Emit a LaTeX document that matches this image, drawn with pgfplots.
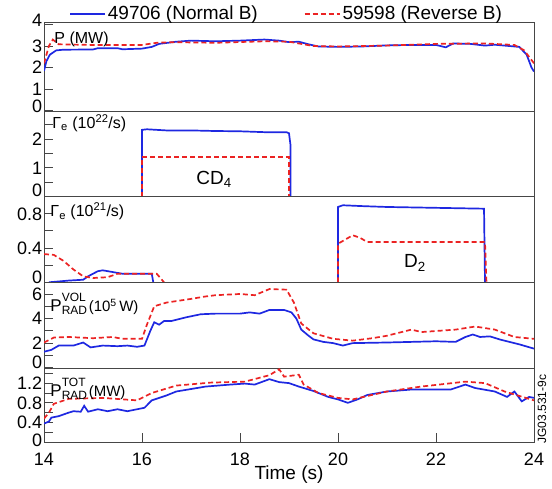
\documentclass[border=0pt]{standalone}
\usepackage{pgfplots}
\pgfplotsset{compat=1.18}
\usepackage{fontspec}
\setmainfont{Liberation Sans}
\definecolor{cblue}{RGB}{30,40,225}
\definecolor{cred}{RGB}{235,35,35}
\definecolor{frame}{RGB}{70,70,70}
\newcommand{\fs}[1]{\fontsize{#1}{#1}\selectfont}
\newcommand{\up}[2]{\raisebox{#1}[\height][\depth]{#2}}
\pgfplotsset{
  panel/.style={
    scale only axis, width=490pt, xmin=14, xmax=24,
    axis line style={draw=frame, line width=0.9pt},
    tick style={draw=frame, line width=0.9pt},
    major tick length=9pt, tick align=inside,
    ytick pos=left, xtick pos=bottom, xtick=\empty,
    yticklabel style={font=\fs{18}, inner sep=0.4pt, xshift=-1.2pt},
    xticklabel style={font=\fs{18}},
    /pgf/number format/assume math mode=true,
    anchor=north west, clip mode=individual,
  },
  nb/.style={color=cblue, solid, line width=1.7pt, mark=none},
  rv/.style={color=cred, line width=1.7pt, dash pattern=on 5pt off 3pt, mark=none},
}
\begin{document}
\begin{tikzpicture}
\useasboundingbox (0pt,0pt) rectangle (552pt,-488pt);
% Panel 1
\begin{axis}[panel, at={(44pt,-22.7pt)}, height=89pt, ymin=-0.04, ymax=4.08,
  ytick={0,1,2,3,4}, yticklabels={\up{5pt}{0},1,2,3,\up{4pt}{4}},
  legend columns=2,
  legend image code/.code={\draw[#1] (0pt,0pt) -- (35pt,0pt);},
  legend style={draw=none, fill=none, inner sep=0pt, font=\fs{19},
    at={(0,1)}, anchor=west, yshift=9pt, xshift=25pt,
    /tikz/every even column/.append style={column sep=44pt}},
  legend cell align=left]
\addplot[nb] coordinates {(14.0,1.85) (14.05,2.3) (14.12,2.6) (14.25,2.8) (14.4,2.83) (15.0,2.84) (15.1,2.9) (15.5,2.9) (15.6,2.85) (16.0,2.88) (16.2,2.96) (16.35,3.1) (16.7,3.2) (17.0,3.25) (17.5,3.22) (18.0,3.25) (18.5,3.3) (18.8,3.25) (19.0,3.18) (19.2,3.2) (19.4,3.08) (19.6,2.98) (20.0,2.96) (20.5,2.98) (21.0,3.03) (21.5,3.05) (22.0,3.05) (22.2,2.94) (22.35,3.12) (22.7,3.1) (23.0,3.02) (23.2,3.06) (23.5,3.0) (23.7,2.96) (23.85,2.6) (23.95,2.0) (24.0,1.82)};
\addlegendentry{49706 (Normal B)}
\addplot[rv] coordinates {(14.0,2.2) (14.1,3.0) (14.18,3.3) (14.3,3.08) (15.0,3.05) (16.0,3.05) (16.3,3.15) (16.6,3.18) (17.5,3.15) (18.5,3.22) (19.0,3.2) (19.2,3.12) (19.5,3.0) (20.0,2.98) (21.0,3.02) (22.0,3.1) (23.0,3.12) (23.6,3.05) (23.8,2.8) (23.9,2.5) (24.0,2.2)};
\addlegendentry{59598 (Reverse B)}
\node[anchor=base west, font=\fs{16}] at (axis description cs:0.014,0.77) {P (MW)};
\end{axis}
% Panel 2
\begin{axis}[panel, at={(44pt,-111.7pt)}, height=85pt, ymin=0, ymax=2.95,
  ytick={0,0.5,1,1.5,2,2.5}, yticklabels={\up{6pt}{0},,1,,2,}]
\addplot[nb] coordinates {(16,0) (16,2.32) (16.1,2.34) (16.5,2.3) (17,2.3) (17.5,2.28) (18,2.27) (18.5,2.24) (18.95,2.24) (19.0,2.2) (19.03,1.8) (19.03,0)};
\addplot[rv] coordinates {(16,0) (16,1.38) (19,1.38) (19,0)};
\node[anchor=base west, font=\fs{16}] at (axis description cs:0.01,0.805) {Γ\textsubscript{e} (10\textsuperscript{22}/s)};
\node[anchor=base, font=\fs{19}] at (axis cs:17.47,0.44) {CD\textsubscript{4}};
\end{axis}
% Panel 3
\begin{axis}[panel, at={(44pt,-196.7pt)}, height=85.6pt, ymin=0, ymax=1.0,
  ytick={0,0.2,0.4,0.6,0.8}, yticklabels={\up{5pt}{0},,0.4,,0.8}]
\addplot[nb] coordinates {(14.1,0) (14.5,0.02) (14.8,0.03) (14.9,0.07) (15.1,0.13) (15.2,0.14) (15.4,0.12) (15.6,0.1) (16.2,0.1) (16.23,0)};
\addplot[nb] coordinates {(20,0) (20,0.88) (20.1,0.9) (20.5,0.89) (21,0.88) (22,0.87) (22.98,0.86) (23,0)};
\addplot[rv] coordinates {(14,0.33) (14.2,0.32) (14.4,0.25) (14.6,0.15) (14.8,0.07) (15.0,0.05) (15.3,0.06) (15.5,0.1) (16.3,0.1) (16.45,0)};
\addplot[rv] coordinates {(20,0) (20,0.45) (20.15,0.5) (20.3,0.55) (20.45,0.52) (20.6,0.47) (23,0.47) (23.03,0)};
\node[anchor=base west, font=\fs{16}] at (axis description cs:0.006,0.766) {Γ\textsubscript{e} (10\textsuperscript{21}/s)};
\node[anchor=base, font=\fs{19}] at (axis cs:21.57,0.17) {D\textsubscript{2}};
\end{axis}
% Panel 4
\begin{axis}[panel, at={(44pt,-282.3pt)}, height=86pt, ymin=-0.05, ymax=6.95,
  ytick={0,1,2,3,4,5,6}, yticklabels={\up{5pt}{0},,2,,4,,6}]
\addplot[nb] coordinates {(14,1.3) (14.15,1.45) (14.3,1.8) (14.6,1.8) (14.8,2.05) (14.95,1.65) (15.2,1.8) (15.5,1.75) (15.7,1.8) (15.9,1.7) (16.05,1.8) (16.17,3.0) (16.25,3.7) (16.35,3.5) (16.45,3.8) (16.6,3.8) (16.9,4.1) (17.2,4.35) (17.5,4.4) (18.0,4.4) (18.2,4.5) (18.4,4.4) (18.6,4.7) (18.9,4.7) (19.05,4.5) (19.15,4.0) (19.25,3.1) (19.4,2.6) (19.5,2.3) (19.7,2.1) (19.9,2.0) (20.1,1.8) (20.3,2.0) (21,2.05) (21.5,2.1) (22,2.15) (22.4,2.1) (22.6,2.5) (22.75,2.7) (22.9,2.5) (23.1,2.55) (23.3,2.3) (23.5,2.1) (23.7,1.9) (24,1.55)};
\addplot[rv] coordinates {(14,2.05) (14.2,2.45) (14.5,2.5) (15.0,2.4) (15.4,2.5) (15.6,2.35) (16.0,2.35) (16.1,3.5) (16.25,5.0) (16.5,5.3) (17.0,5.6) (17.3,5.8) (17.5,5.9) (18.0,6.0) (18.3,5.9) (18.6,6.4) (18.95,6.35) (19.1,5.3) (19.25,3.6) (19.5,2.8) (19.9,2.35) (20.3,2.2) (20.7,2.4) (21.0,2.6) (21.5,3.1) (21.7,2.9) (22.4,3.1) (22.8,3.35) (23.2,3.1) (23.6,2.5) (24,2.35)};
\node[anchor=base west] at (axis description cs:0.006,0.66) {{\fs{17}P}\rlap{\raisebox{10pt}{\fs{12}VOL}}\raisebox{-3pt}{\fs{12}RAD}\,{\fs{15}(10\textsuperscript{5}\,W)}};
\end{axis}
% Panel 5
\begin{axis}[panel, at={(44pt,-368.3pt)}, height=74pt, ymin=0, ymax=1.5,
  xtick={14,16,18,20,22,24}, xticklabels={14,16,18,20,22,24},
  major tick length=9.5pt, xticklabel style={yshift=-7pt},
  ytick={0,0.2,0.4,0.6,0.8,1.0,1.2,1.4}, yticklabels={\up{2pt}{0},,0.4,,0.8,,1.2,}]
\addplot[nb] coordinates {(14,0.38) (14.1,0.42) (14.15,0.5) (14.3,0.53) (14.5,0.6) (14.6,0.63) (14.75,0.62) (14.82,0.74) (14.9,0.62) (15.1,0.67) (15.3,0.63) (15.5,0.67) (15.7,0.63) (15.9,0.67) (16.05,0.7) (16.2,0.85) (16.5,0.95) (16.7,1.03) (17.0,1.08) (17.3,1.13) (17.8,1.17) (18.1,1.19) (18.3,1.17) (18.6,1.28) (18.8,1.22) (19.0,1.2) (19.2,1.13) (19.5,1.04) (19.8,0.92) (20.0,0.87) (20.2,0.8) (20.4,0.87) (20.6,0.96) (21.0,1.03) (21.5,1.07) (22.3,1.07) (22.6,1.17) (22.8,1.1) (23.2,1.03) (23.45,0.92) (23.6,1.03) (23.75,0.83) (23.9,0.92) (24,0.9)};
\addplot[rv] coordinates {(14,0.48) (14.1,0.6) (14.2,0.78) (14.5,0.88) (15.2,0.9) (15.9,0.85) (16.2,1.0) (16.7,1.15) (17.4,1.21) (18.1,1.23) (18.6,1.36) (18.8,1.48) (18.9,1.33) (19.2,1.37) (19.3,1.17) (19.6,1.0) (20.0,0.9) (20.3,0.87) (21.0,1.03) (21.7,1.13) (22.6,1.23) (23.0,1.2) (23.4,1.03) (24,0.85)};
\node[anchor=base west] at (axis description cs:0.006,0.62) {{\fs{17}P}\rlap{\raisebox{10pt}{\fs{12}TOT}}\raisebox{-3pt}{\fs{12}RAD}\,{\fs{15}(MW)}};
\node[font=\fs{12}, xshift=8pt, rotate=90, anchor=center] at (axis description cs:1,0.45) {JG03.531-9c};
\node[font=\fs{19}, anchor=center, yshift=-32.5pt] at (axis description cs:0.5,0) {Time (s)};
\end{axis}
\end{tikzpicture}
\end{document}
